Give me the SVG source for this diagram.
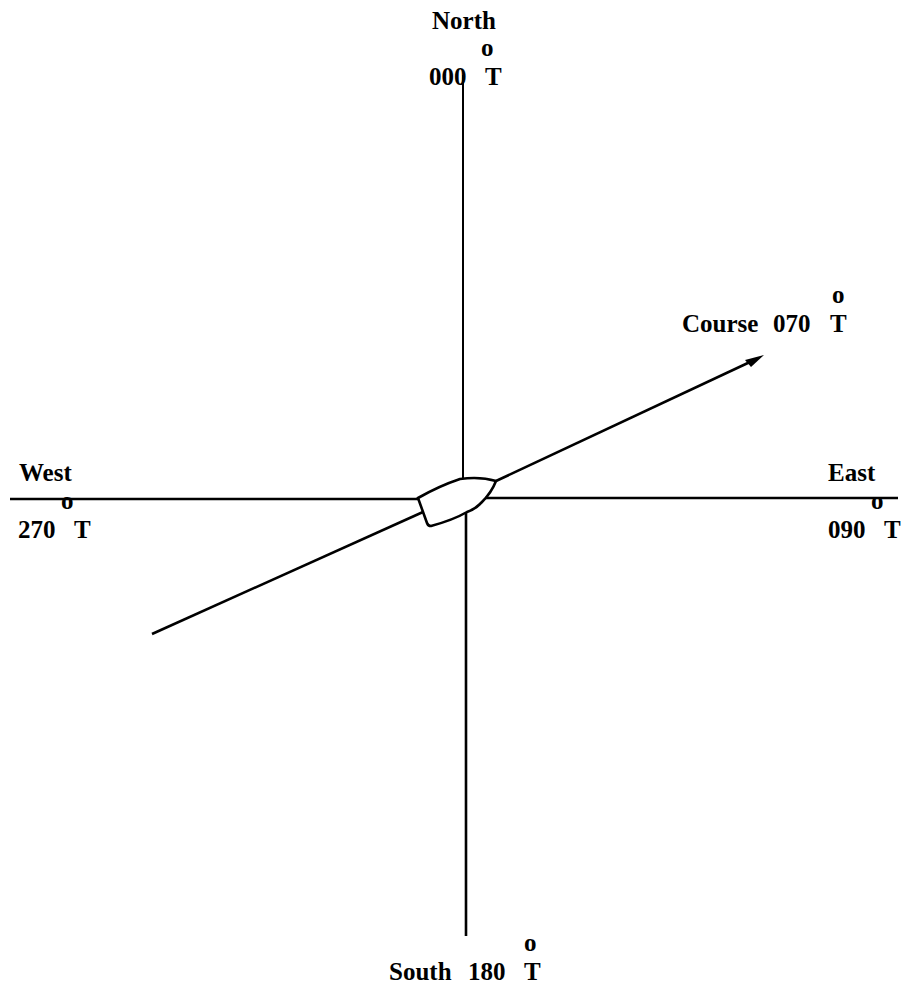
<svg xmlns="http://www.w3.org/2000/svg" width="908" height="990" viewBox="0 0 908 990">
<style>
text{font-family:"Liberation Serif","Times New Roman",serif;font-weight:bold;font-size:25px;fill:#000}
.l{fill:none;stroke:#000;stroke-width:2}
.t{stroke-width:2.6}
</style>
<rect width="908" height="990" fill="#fff"/>
<g id="connectors">
<path class="l" d="M463 75V479"/>
<path class="l t" d="M466 513V936"/>
<path class="l t" d="M10 499H418"/>
<path class="l t" d="M485 498H898"/>
<path class="l t" d="M496 481L750 362"/>
<path class="l t" d="M152 634L423 512"/>
<path d="M764 355L751 367L745 360Z" fill="#000"/>
</g>
<g id="boat"><path class="l t" d="M418 498C432 490 448 483 460 479C474 477 486 478 496 481C491 494 485 499 480 504C476 508 470 511 467 512C455 519 442 523 431 526Q428 526 427 523Z" fill="#fff"/></g>
<g id="north"><text x="432" y="29">North</text><text x="481" y="56">o</text><text x="429" y="85">000</text><text x="485" y="85">T</text></g>
<g id="course"><text x="682" y="332">Course</text><text x="773" y="332">070</text><text x="830" y="332">T</text><text x="832" y="303">o</text></g>
<g id="west"><text x="19" y="481">West</text><text x="61" y="509">o</text><text x="18" y="538">270</text><text x="74" y="538">T</text></g>
<g id="east"><text x="828" y="481">East</text><text x="871" y="509">o</text><text x="828" y="538">090</text><text x="884" y="538">T</text></g>
<g id="south"><text x="389" y="980">South</text><text x="468" y="980">180</text><text x="524" y="980">T</text><text x="524" y="951">o</text></g>
</svg>
